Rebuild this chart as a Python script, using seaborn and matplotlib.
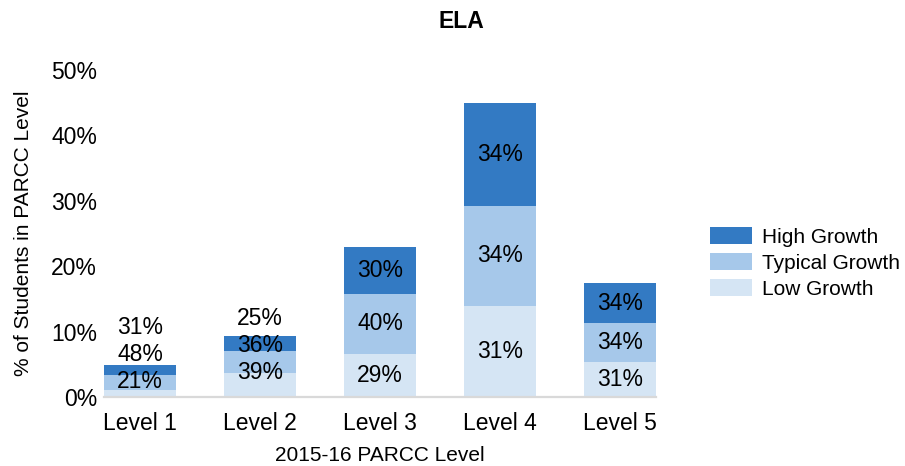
import matplotlib

matplotlib.use("Agg")
import matplotlib.pyplot as plt
from matplotlib.patches import Patch
import pandas as pd
import seaborn as sns

# bar heights (% of students in each PARCC level) and growth split within each bar
levels = ["Level 1", "Level 2", "Level 3", "Level 4", "Level 5"]
level_pct = [4.9, 9.3, 22.9, 45.0, 17.4]
low_share = [21, 39, 29, 31, 31]
typical_share = [48, 36, 40, 34, 34]
high_share = [31, 25, 30, 34, 34]

series_names = ["High Growth", "Typical Growth", "Low Growth"]
colors = {"High Growth": "#337AC3", "Typical Growth": "#A6C8EA", "Low Growth": "#D5E5F4"}

sns.set_style("white")
plt.rcParams["font.family"] = ["Liberation Sans", "DejaVu Sans"]
plt.rcParams["text.color"] = "black"
plt.rcParams["axes.labelcolor"] = "black"

df = pd.DataFrame({
    "level": levels,
    "total": level_pct,
    "low": [t * s / 100 for t, s in zip(level_pct, low_share)],
    "typical": [t * s / 100 for t, s in zip(level_pct, typical_share)],
})
df["high"] = df["total"] - df["low"] - df["typical"]
df["low_typ"] = df["low"] + df["typical"]

fig = plt.figure(figsize=(9.05, 4.66), dpi=100)
ax = fig.add_axes([104 / 905, 1 - 397 / 466, 552 / 905, 327 / 466])

# stacked bars: draw cumulative heights from tallest to shortest
for col, name in (("total", "High Growth"), ("low_typ", "Typical Growth"), ("low", "Low Growth")):
    sns.barplot(data=df, x="level", y=col, color=colors[name], saturation=1,
                width=0.6, errorbar=None, linewidth=0, edgecolor="none", ax=ax)

# segment labels; small bars get a stacked column of labels above the bar
gap, min_y = 4.1, 2.4
for i, row in df.iterrows():
    segs = [(0, row["low"]), (row["low"], row["low_typ"]), (row["low_typ"], row["total"])]
    texts = [low_share[i], typical_share[i], high_share[i]]
    if min(b - a for a, b in segs) < gap:
        ys = [row["total"] + 2.7 - gap * k for k in (2, 1, 0)]
        shift = max(0, min_y - ys[0])
        ys = [y + shift for y in ys]
    else:
        ys = [(a + b) / 2 for a, b in segs]
    for y, t in zip(ys, texts):
        ax.text(i, y, f"{t}%", ha="center", va="center", fontsize=16.5, color="black")

ax.set_xlim(-0.3, 4.3)
ax.set_ylim(0, 50)
ax.set_yticks(range(0, 51, 10))
ax.set_yticklabels([f"{v}%" for v in range(0, 51, 10)])
ax.tick_params(axis="y", length=0, pad=5, labelsize=16.5, labelcolor="black")
ax.tick_params(axis="x", length=3.6, width=1.2, color="#D9D9D9", pad=7,
               labelsize=16.5, labelcolor="black")

for side in ("top", "right", "left"):
    ax.spines[side].set_visible(False)
ax.spines["bottom"].set_color("#D9D9D9")
ax.spines["bottom"].set_linewidth(1.6)

ax.set_xlabel("2015-16 PARCC Level", fontsize=15, labelpad=8, color="black")
ax.set_ylabel("% of Students in PARCC Level", fontsize=15, labelpad=13, color="black")

fig.text(0.51, 1 - 22 / 466, "ELA", ha="center", va="center", fontsize=16.5,
         fontweight="bold", color="black")

handles = [Patch(facecolor=colors[n], edgecolor="none") for n in series_names]
leg = ax.legend(handles, series_names, loc="center left",
                bbox_to_anchor=(710 / 905, 1 - 263 / 466), bbox_transform=fig.transFigure,
                frameon=False, fontsize=15, handlelength=2.0, handleheight=0.87,
                handletextpad=0.5, labelspacing=0.3, borderpad=0, borderaxespad=0)
for t in leg.get_texts():
    t.set_color("black")

fig.savefig("out.png", dpi=100)
plt.close(fig)
